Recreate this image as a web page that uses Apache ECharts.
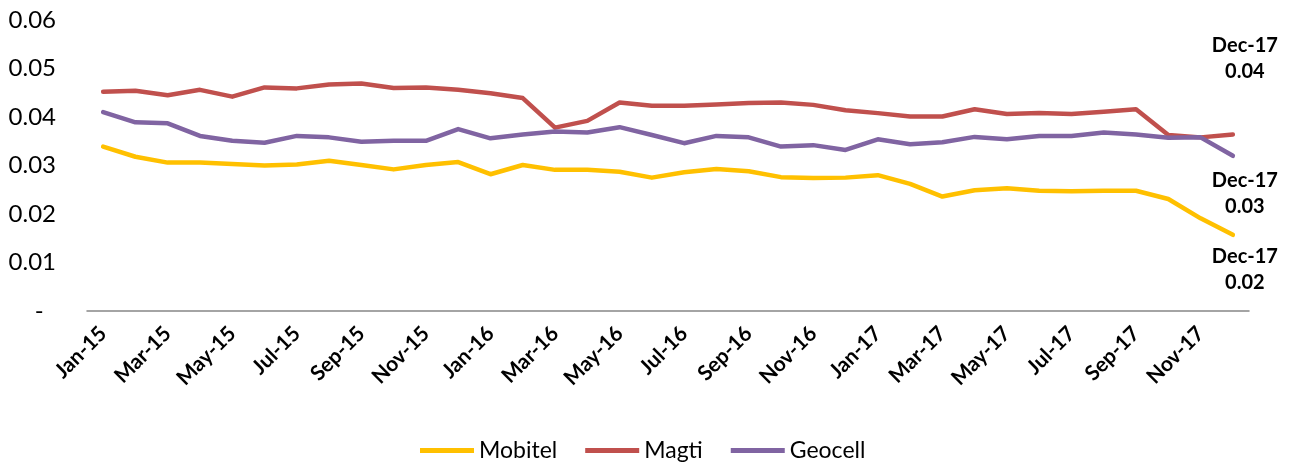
<!DOCTYPE html>
<html><head><meta charset="utf-8">
<script src="https://cdn.jsdelivr.net/npm/echarts@6/dist/echarts.min.js"></script>
<style>html,body{margin:0;padding:0;background:#fff}#c{width:1292px;height:463px}</style>
</head><body><div id="c"></div>
<script>
const categories = ['Jan-15','Feb-15','Mar-15','Apr-15','May-15','Jun-15','Jul-15','Aug-15','Sep-15','Oct-15','Nov-15','Dec-15',
 'Jan-16','Feb-16','Mar-16','Apr-16','May-16','Jun-16','Jul-16','Aug-16','Sep-16','Oct-16','Nov-16','Dec-16',
 'Jan-17','Feb-17','Mar-17','Apr-17','May-17','Jun-17','Jul-17','Aug-17','Sep-17','Oct-17','Nov-17','Dec-17'];
const mobitel = [0.0339,0.0318,0.0306,0.0306,0.0303,0.0300,0.0302,0.0310,0.0301,0.0292,0.0301,0.0307,
 0.0282,0.0301,0.0291,0.0291,0.0287,0.0275,0.0286,0.0293,0.0288,0.0276,0.0274,0.0275,
 0.0280,0.0262,0.0236,0.0249,0.0253,0.0248,0.0247,0.0248,0.0248,0.0231,0.0191,0.0157];
const magti = [0.0452,0.0454,0.0445,0.0456,0.0442,0.0461,0.0459,0.0467,0.0469,0.0460,0.0461,0.0456,
 0.0449,0.0439,0.0378,0.0392,0.0430,0.0423,0.0423,0.0426,0.0429,0.0430,0.0425,0.0414,
 0.0408,0.0401,0.0401,0.0416,0.0406,0.0408,0.0406,0.0411,0.0416,0.0363,0.0358,0.0364];
const geocell = [0.0410,0.0389,0.0387,0.0361,0.0351,0.0347,0.0361,0.0358,0.0349,0.0351,0.0351,0.0375,
 0.0356,0.0364,0.0370,0.0368,0.0379,0.0363,0.0346,0.0361,0.0358,0.0339,0.0342,0.0332,
 0.0354,0.0344,0.0348,0.0359,0.0354,0.0361,0.0361,0.0368,0.0364,0.0357,0.0358,0.0320];
const yTicks = [0, 0.01, 0.02, 0.03, 0.04, 0.05, 0.06];

const FONT = 'Lato, "Open Sans", sans-serif';
function mkSeries(name, arr, color, offset) {
  return {
    name, type: 'line', data: arr, symbol: 'none', showSymbol: false,
    lineStyle: { color, width: 4.5, cap: 'round', join: 'round' }, itemStyle: { color },
    emphasis: { disabled: true }, z: 2,
    endLabel: {
      show: true, distance: 0, offset: offset, align: 'center', verticalAlign: 'middle',
      formatter: p => categories[p.dataIndex] + '\n' + (+p.value).toFixed(2),
      fontFamily: FONT, fontWeight: 'bold', fontSize: 20, lineHeight: 26, color: '#000'
    }
  };
}
const chart = echarts.init(document.getElementById('c'), null, { renderer: 'canvas' });
chart.setOption({
  animation: false,
  backgroundColor: '#fff',
  grid: { left: 87, right: 43, top: 20, bottom: 152, containLabel: false },
  legend: {
    left: 415, top: 434, itemWidth: 54, itemHeight: 5, itemGap: 28, icon: 'rect',
    textStyle: { fontFamily: FONT, fontSize: 23, color: '#000' },
    data: ['Mobitel', 'Magti', 'Geocell']
  },
  xAxis: {
    type: 'category', data: categories, boundaryGap: true,
    axisLine: { lineStyle: { color: '#868686', width: 1.5 } },
    axisTick: { show: false },
    axisLabel: {
      interval: 1, rotate: 45, margin: 19, fontFamily: FONT, fontWeight: 'bold', fontSize: 21, color: '#000'
    }
  },
  yAxis: {
    type: 'value', min: 0, max: 0.06, interval: 0.01,
    axisLine: { show: false }, axisTick: { show: false }, splitLine: { show: false },
    axisLabel: {
      margin: 31, fontFamily: FONT, fontSize: 24, color: '#000',
      formatter: v => v === 0 ? '-  ' : yTicks.includes(+v.toFixed(2)) ? v.toFixed(2) : ''
    }
  },
  series: [
    mkSeries('Mobitel', mobitel, '#FFC000', [12, 35]),
    mkSeries('Magti', magti, '#C0504D', [12, -76]),
    mkSeries('Geocell', geocell, '#8064A2', [12, 38])
  ]
});
</script></body></html>
